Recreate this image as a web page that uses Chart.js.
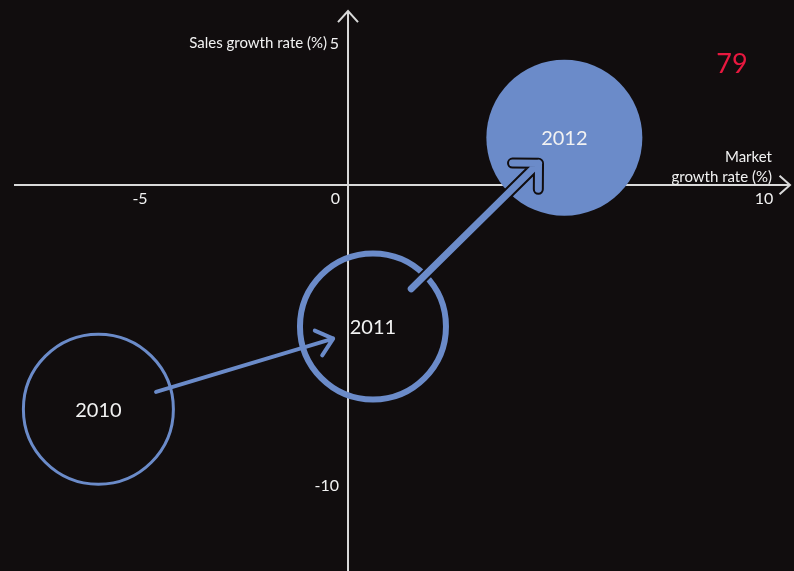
<!DOCTYPE html>
<html>
<head>
<meta charset="utf-8">
<script src="https://cdn.jsdelivr.net/npm/chart.js@4/dist/chart.umd.min.js"></script>
<style>
  html, body { margin: 0; padding: 0; background: #110d0e; }
  #chart { display: block; }
</style>
</head>
<body>
<canvas id="chart" width="794" height="571"></canvas>
<script>
// ── Data ──────────────────────────────────────
const years = ['2010', '2011', '2012'];
const marketGrowth = [-6.0, 0.6, 5.2];   // x, %
const salesGrowth = [-7.6, -4.8, 1.6];   // y, %
const bubbleSize = [75, 73, 78];          // radius
const xTickValues = [-5, 0, 10];
const yTickValues = [5, -10];

const BLUE = '#6b8bc9';
const BG = '#110d0e';
const AXIS = '#d9d9d9';
const TEXT = '#f2f2f2';
const FONT = 'Lato, "Open Sans", sans-serif';

// ── Helpers ───────────────────────────────────
function chevron(ctx, x, y, angle, len, spread) {
    ctx.beginPath();
    ctx.moveTo(x + len * Math.cos(angle + spread), y + len * Math.sin(angle + spread));
    ctx.lineTo(x, y);
    ctx.lineTo(x + len * Math.cos(angle - spread), y + len * Math.sin(angle - spread));
}

function arrowPath(ctx, a, b, f0, f1, head, spread) {
    const x0 = a.x + (b.x - a.x) * f0, y0 = a.y + (b.y - a.y) * f0;
    const x1 = a.x + (b.x - a.x) * f1, y1 = a.y + (b.y - a.y) * f1;
    const back = Math.atan2(y0 - y1, x0 - x1);
    ctx.beginPath();
    ctx.moveTo(x0, y0);
    ctx.lineTo(x1, y1);
    ctx.moveTo(x1 + head * Math.cos(back + spread), y1 + head * Math.sin(back + spread));
    ctx.lineTo(x1, y1);
    ctx.lineTo(x1 + head * Math.cos(back - spread), y1 + head * Math.sin(back - spread));
}

// axes cross at the origin, with open arrow tips
const crossAxes = {
    id: 'crossAxes',
    beforeDatasetsDraw(chart) {
        const { ctx, scales: { x, y } } = chart;
        const ox = x.getPixelForValue(0);
        const oy = y.getPixelForValue(0);
        ctx.save();
        ctx.strokeStyle = AXIS;
        ctx.lineWidth = 2;
        ctx.beginPath();
        ctx.moveTo(14, oy); ctx.lineTo(790, oy);
        ctx.moveTo(ox, 571); ctx.lineTo(ox, 11);
        ctx.stroke();
        chevron(ctx, 790, oy, Math.PI, 14, Math.PI / 4.3);
        ctx.stroke();
        chevron(ctx, ox, 11, Math.PI / 2, 15, Math.PI / 4.3);
        ctx.stroke();

        ctx.fillStyle = TEXT;
        ctx.font = '16px ' + FONT;
        ctx.textBaseline = 'middle';
        xTickValues.forEach(v => {
            if (v === 0) {
                ctx.textAlign = 'right';
                ctx.fillText('0', ox - 8, oy + 14);
            } else {
                ctx.textAlign = 'center';
                ctx.fillText(String(v), x.getPixelForValue(v), oy + 14);
            }
        });
        ctx.textAlign = 'right';
        yTickValues.forEach(v => {
            ctx.fillText(String(v), ox - 9, y.getPixelForValue(v) + 6);
        });

        ctx.font = '15px ' + FONT;
        ctx.fillText('Sales growth rate (%)', ox - 21, y.getPixelForValue(5) + 6);
        ctx.fillText('Market', 772, oy - 28);
        ctx.fillText('growth rate (%)', 772, oy - 8);
        ctx.restore();
    },
    afterDatasetsDraw(chart) {
        const { ctx } = chart;
        const pts = chart.getDatasetMeta(0).data;
        ctx.save();
        ctx.lineCap = 'round';
        ctx.lineJoin = 'round';

        // 2010 -> 2011, thin open arrow
        ctx.strokeStyle = BLUE;
        ctx.lineWidth = 4;
        arrowPath(ctx, pts[0], pts[1], 0.21, 0.855, 20, 0.7);
        ctx.stroke();

        // 2011 -> 2012, thick arrow with dark outline
        arrowPath(ctx, pts[1], pts[2], 0.2, 0.865, 26, Math.PI / 4);
        ctx.strokeStyle = BG;
        ctx.lineWidth = 11;
        ctx.stroke();
        ctx.strokeStyle = BLUE;
        ctx.lineWidth = 7;
        ctx.stroke();

        // year labels
        ctx.fillStyle = TEXT;
        ctx.font = '20px ' + FONT;
        ctx.textAlign = 'center';
        ctx.textBaseline = 'middle';
        pts.forEach((p, i) => ctx.fillText(years[i], p.x, p.y + 1));

        // page number
        ctx.fillStyle = '#e8183f';
        ctx.font = '27px ' + FONT;
        ctx.fillText('79', 732, 64);
        ctx.restore();
    }
};

new Chart(document.getElementById('chart'), {
    type: 'bubble',
    data: {
        datasets: [{
            data: years.map((_, i) => ({ x: marketGrowth[i], y: salesGrowth[i], r: bubbleSize[i] })),
            backgroundColor: ['rgba(0,0,0,0)', 'rgba(0,0,0,0)', BLUE],
            borderColor: BLUE,
            borderWidth: [3, 6, 0],
            hoverRadius: 0,
            clip: false
        }]
    },
    options: {
        responsive: false,
        animation: false,
        devicePixelRatio: 1,
        layout: { padding: 0, autoPadding: false },
        scales: {
            x: { type: 'linear', min: -8.365, max: 10.72, display: false },
            y: { type: 'linear', min: -13.085, max: 6.271, display: false }
        },
        plugins: { legend: { display: false }, tooltip: { enabled: false } }
    },
    plugins: [crossAxes]
});
</script>
</body>
</html>
